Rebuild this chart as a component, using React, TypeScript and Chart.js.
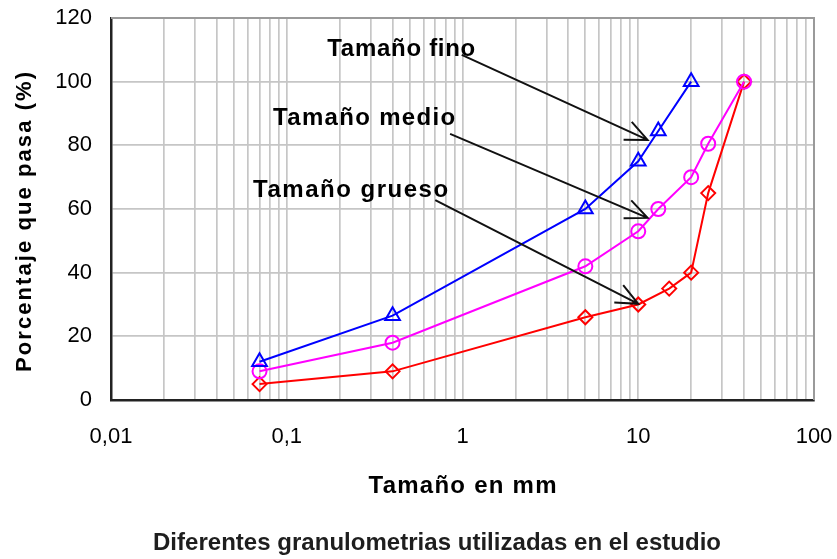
import React, { useEffect, useRef } from "react";
import { Chart, registerables } from "chart.js";

Chart.register(...registerables);

// ---- data ----
const finoX = [0.07, 0.4, 5, 10, 13, 20];
const finoY = [12, 26.5, 60, 75, 84.5, 100];
const medioX = [0.07, 0.4, 5, 10, 13, 20, 25, 40];
const medioY = [9, 18, 42, 53, 60, 70, 80.5, 100];
const gruesoX = [0.07, 0.4, 5, 10, 15, 20, 25, 40];
const gruesoY = [5, 9, 26, 30, 35, 40, 65, 100];

const xDecades = [0.01, 0.1, 1, 10, 100];
const xTickLabels = ["0,01", "0,1", "1", "10", "100"];
const yTicks = [0, 20, 40, 60, 80, 100, 120];

const seriesNames = ["Tamaño fino", "Tamaño medio", "Tamaño grueso"];
// annotation text anchor (left, baseline) in data units
const labelX = [0.17, 0.0836, 0.0643];
const labelY = [108, 86.4, 63.8];
// arrow start/end in data units
const arrowFromX = [0.99, 0.85, 0.7];
const arrowFromY = [108.4, 83.6, 62.8];
const arrowToX = [11.3, 11.3, 10];
const arrowToY = [81.7, 57.2, 30.2];

const xTitle = "Tamaño en mm";
const yTitle = "Porcentaje que pasa (%)";
const caption = "Diferentes granulometrias utilizadas en el estudio";

const FONT = '"Liberation Sans", Arial, sans-serif';

function xTickValues(): number[] {
  const vals: number[] = [];
  for (let d = 0; d < xDecades.length - 1; d++) {
    for (let m = 1; m <= 9; m++) {
      vals.push(parseFloat((xDecades[d] * m).toPrecision(6)));
    }
  }
  vals.push(xDecades[xDecades.length - 1]);
  return vals;
}

function fitText(
  ctx: CanvasRenderingContext2D,
  text: string,
  x: number,
  y: number,
  width: number | null,
  align: "left" | "center"
) {
  (ctx as any).letterSpacing = "0px";
  let w = ctx.measureText(text).width;
  let ls = 0;
  if (width) {
    ls = (width - w) / Math.max(1, text.length - 1);
    (ctx as any).letterSpacing = ls + "px";
    w = width;
  }
  const left = align === "center" ? x - w / 2 : x;
  ctx.textAlign = "left";
  ctx.fillText(text, left, y);
  (ctx as any).letterSpacing = "0px";
}

const overlay = {
  id: "overlay",
  beforeDatasetsDraw(chart: any) {
    const { ctx, chartArea: a } = chart;
    ctx.save();
    ctx.strokeStyle = "#9a9a9a";
    ctx.lineWidth = 2;
    ctx.beginPath();
    ctx.moveTo(a.left, a.top);
    ctx.lineTo(a.right, a.top);
    ctx.lineTo(a.right, a.bottom);
    ctx.stroke();
    ctx.restore();
  },
  afterDatasetsDraw(chart: any) {
    const { ctx } = chart;
    const xs = chart.scales.x;
    const ys = chart.scales.y;
    ctx.save();
    ctx.strokeStyle = "#111";
    ctx.lineWidth = 2;
    for (let i = 0; i < arrowFromX.length; i++) {
      const x1 = xs.getPixelForValue(arrowFromX[i]);
      const y1 = ys.getPixelForValue(arrowFromY[i]);
      const x2 = xs.getPixelForValue(arrowToX[i]);
      const y2 = ys.getPixelForValue(arrowToY[i]);
      const ang = Math.atan2(y2 - y1, x2 - x1);
      ctx.beginPath();
      ctx.moveTo(x1, y1);
      ctx.lineTo(x2, y2);
      const head = 24;
      const spread = 0.42;
      ctx.moveTo(x2 - head * Math.cos(ang - spread), y2 - head * Math.sin(ang - spread));
      ctx.lineTo(x2, y2);
      ctx.lineTo(x2 - head * Math.cos(ang + spread), y2 - head * Math.sin(ang + spread));
      ctx.stroke();
    }
    ctx.restore();
  },
  afterDraw(chart: any) {
    const { ctx, chartArea: a } = chart;
    const xs = chart.scales.x;
    const ys = chart.scales.y;
    ctx.save();
    ctx.fillStyle = "#000";
    ctx.textBaseline = "alphabetic";
    ctx.font = `bold 24px ${FONT}`;
    const widths = [148, 182, 195];
    for (let i = 0; i < seriesNames.length; i++) {
      fitText(
        ctx,
        seriesNames[i],
        xs.getPixelForValue(labelX[i]),
        ys.getPixelForValue(labelY[i]),
        widths[i],
        "left"
      );
    }
    // x title
    ctx.font = `bold 24px ${FONT}`;
    fitText(ctx, xTitle, (a.left + a.right) / 2, 493, 188, "center");
    // y title
    ctx.save();
    ctx.translate(31, 222);
    ctx.rotate(-Math.PI / 2);
    ctx.font = `bold 22px ${FONT}`;
    fitText(ctx, yTitle, 0, 0, 300, "center");
    ctx.restore();
    // caption
    ctx.fillStyle = "#1e1e1e";
    ctx.font = `bold 24px ${FONT}`;
    fitText(ctx, caption, 437, 550, 568, "center");
    ctx.restore();
  },
};

export default function App() {
  const ref = useRef<HTMLCanvasElement | null>(null);
  useEffect(() => {
    if (!ref.current) return;
    const mk = (xs: number[], ys: number[]) => xs.map((x, i) => ({ x, y: ys[i] }));
    const tickVals = xTickValues();
    const chart = new Chart(ref.current, {
      type: "line",
      data: {
        datasets: [
          {
            label: seriesNames[0],
            data: mk(finoX, finoY),
            borderColor: "#0000ff",
            backgroundColor: "rgba(0,0,0,0)",
            pointStyle: "triangle",
            pointRadius: 8.5,
            pointBorderWidth: 2,
            borderWidth: 2,
          },
          {
            label: seriesNames[1],
            data: mk(medioX, medioY),
            borderColor: "#ff00ff",
            backgroundColor: "rgba(0,0,0,0)",
            pointStyle: "circle",
            pointRadius: 7,
            pointBorderWidth: 2,
            borderWidth: 2,
          },
          {
            label: seriesNames[2],
            data: mk(gruesoX, gruesoY),
            borderColor: "#ff0000",
            backgroundColor: "rgba(0,0,0,0)",
            pointStyle: "rectRot",
            pointRadius: 7,
            pointBorderWidth: 2,
            borderWidth: 2,
          },
        ],
      },
      options: {
        animation: false,
        responsive: false,
        devicePixelRatio: 1,
        layout: { padding: { left: 0, top: 18, right: 23, bottom: 0 } },
        plugins: {
          legend: { display: false },
          tooltip: { enabled: false },
          title: { display: false },
        },
        scales: {
          x: {
            type: "logarithmic",
            min: 0.01,
            max: 100,
            afterBuildTicks: (scale: any) => {
              scale.ticks = tickVals.map((v) => ({ value: v }));
            },
            afterFit: (scale: any) => {
              scale.height = 159;
              scale.paddingLeft = 0;
              scale.paddingRight = 0;
            },
            grid: { color: "#c6c6c6", lineWidth: 1.7, drawTicks: false },
            border: { color: "#222", width: 2.5 },
            ticks: {
              autoSkip: false,
              maxRotation: 0,
              padding: 24,
              color: "#000",
              font: { family: FONT, size: 22 },
              callback: (v: any) => {
                const idx = xDecades.findIndex((d) => Math.abs(d - Number(v)) / d < 1e-6);
                return idx >= 0 ? xTickLabels[idx] : "";
              },
            },
          },
          y: {
            type: "linear",
            min: yTicks[0],
            max: yTicks[yTicks.length - 1],
            afterBuildTicks: (scale: any) => {
              scale.ticks = yTicks.map((v) => ({ value: v }));
            },
            afterFit: (scale: any) => {
              scale.width = 111;
              scale.paddingTop = 0;
              scale.paddingBottom = 0;
            },
            grid: { color: "#c6c6c6", lineWidth: 1.7, drawTicks: false },
            border: { color: "#222", width: 2.5 },
            ticks: {
              padding: 19,
              color: "#000",
              font: { family: FONT, size: 22 },
              callback: (v: any) => String(v),
            },
          },
        },
      },
      plugins: [overlay],
    } as any);
    return () => chart.destroy();
  }, []);
  return (
    <div style={{ position: "absolute", left: 0, top: 0, width: 837, height: 559, background: "#fff" }}>
      <canvas ref={ref} width={837} height={559} style={{ width: 837, height: 559, display: "block" }} />
    </div>
  );
}
